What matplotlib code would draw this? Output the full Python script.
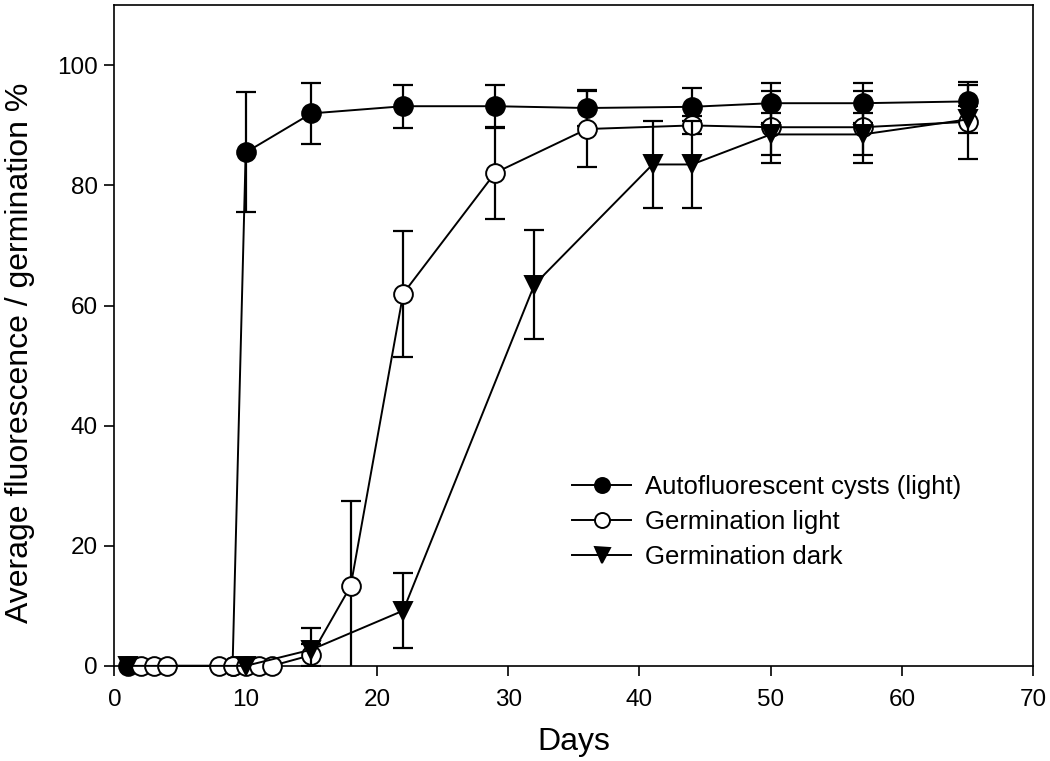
import numpy as np
import matplotlib
matplotlib.use('Agg')
from matplotlib import pyplot as plt

plt.rcParams['font.family'] = ['Liberation Sans', 'DejaVu Sans']

# Autofluorescent cysts (light)
auto_days = [1, 9, 10, 15, 22, 29, 36, 44, 50, 57, 65]
auto_mean = [0, 0, 85.5, 92.0, 93.2, 93.2, 92.9, 93.1, 93.7, 93.7, 94.0]
auto_err = [0, 0, 10.0, 5.1, 3.6, 3.6, 3.0, 3.2, 3.3, 3.3, 3.2]

# Germination light
light_days = [2, 3, 4, 8, 9, 10, 11, 12, 15, 18, 22, 29, 36, 44, 50, 57, 65]
light_mean = [0, 0, 0, 0, 0, 0, 0, 0, 1.8, 13.3, 62.0, 82.1, 89.4, 90.0, 89.7, 89.7, 90.6]
light_err = [0, 0, 0, 0, 0, 0, 0, 0, 1.8, 14.2, 10.5, 7.6, 6.4, 1.5, 6.0, 6.0, 6.2]

# Germination dark
dark_days = [1, 10, 15, 22, 32, 41, 44, 50, 57, 65]
dark_mean = [0, 0, 2.7, 9.2, 63.5, 83.5, 83.5, 88.5, 88.5, 91.0]
dark_err = [0, 0, 3.6, 6.3, 9.1, 7.2, 7.2, 3.5, 3.5, 2.2]

series = [
    ('Autofluorescent cysts (light)', auto_days, auto_mean, auto_err, 'o', 'black', 3),
    ('Germination light', light_days, light_mean, light_err, 'o', 'white', 4),
    ('Germination dark', dark_days, dark_mean, dark_err, 'v', 'black', 5),
]

fig = plt.figure(figsize=(10.5, 7.61), dpi=100)
ax = fig.add_axes([0.109, 0.125, 0.875, 0.868])

for label, days, mean, err, marker, face, z in series:
    days = np.array(days, dtype=float)
    mean = np.array(mean, dtype=float)
    err = np.array(err, dtype=float)
    mask = err > 0
    # усы погрешности только там, где они есть
    ax.errorbar(days[mask], mean[mask], yerr=err[mask], fmt='none', ecolor='black',
                elinewidth=1.6, capsize=7, capthick=1.6, zorder=z - 0.5)
    ax.plot(days, mean, color='black', linewidth=1.4, marker=marker, markersize=13.5,
            markerfacecolor=face, markeredgecolor='black', markeredgewidth=1.4,
            label=label, zorder=z, clip_on=False)

ax.set_xlim(0, 70)
ax.set_ylim(0, 110)
ax.set_xticks(range(0, 71, 10))
ax.set_yticks(range(0, 101, 20))
ax.tick_params(direction='out', length=7, width=1.2, labelsize=17.5)
ax.tick_params(axis='x', pad=10)
ax.tick_params(axis='y', pad=5)
for sp in ax.spines.values():
    sp.set_linewidth(1.2)

ax.set_xlabel('Days', fontsize=23, labelpad=11)
ax.set_ylabel('Average fluorescence / germination %', fontsize=23)
ax.yaxis.set_label_coords(-0.086, 0.474)

ax.legend(loc='upper left', bbox_to_anchor=(0.498, 0.289), frameon=False,
          fontsize=18.5, handlelength=2.3, handletextpad=0.55, labelspacing=0.43,
          borderpad=0, borderaxespad=0, markerscale=0.8)

fig.savefig('out.png', dpi=100)
